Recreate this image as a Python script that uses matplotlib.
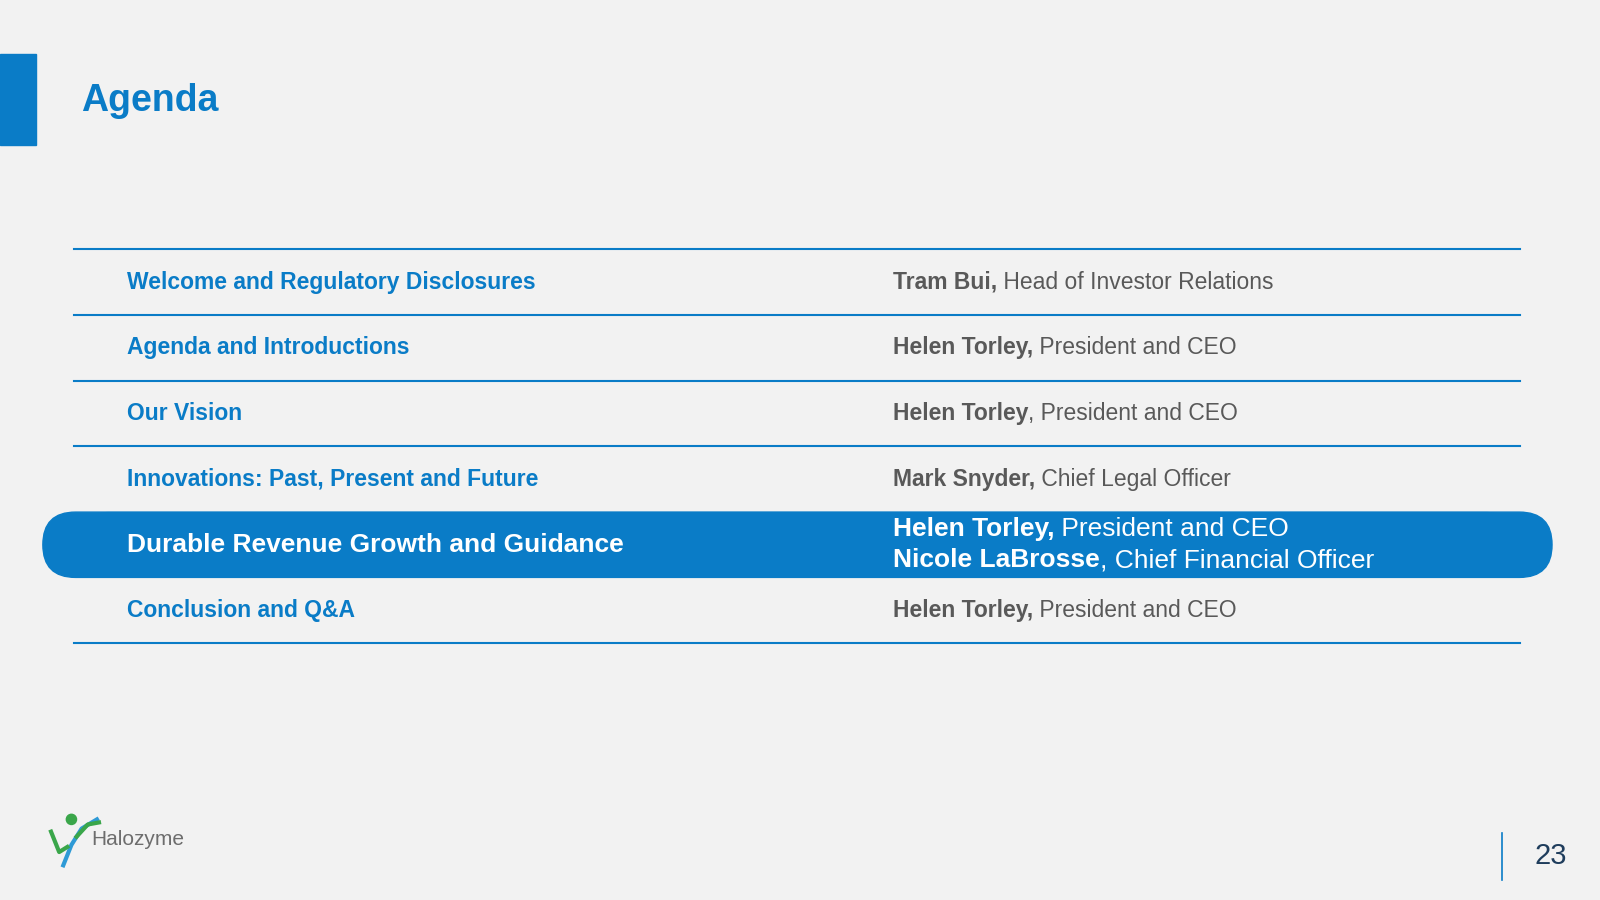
import matplotlib
matplotlib.use("Agg")
import matplotlib.pyplot as plt
from matplotlib.patches import FancyBboxPatch, Rectangle

topics = ["Welcome and Regulatory Disclosures", "Agenda and Introductions", "Our Vision",
          "Innovations: Past, Present and Future", "Durable Revenue Growth and Guidance",
          "Conclusion and Q&A"]
names = [["Tram Bui,"], ["Helen Torley,"], ["Helen Torley"], ["Mark Snyder,"],
         ["Helen Torley,", "Nicole LaBrosse"], ["Helen Torley,"]]
roles = [[" Head of Investor Relations"], [" President and CEO"], [", President and CEO"],
         [" Chief Legal Officer"], [" President and CEO", ", Chief Financial Officer"],
         [" President and CEO"]]
highlight = 4

BLUE = "#0a7cc7"
GREY = "#595959"
plt.rcParams['font.family'] = ['Liberation Sans', 'DejaVu Sans']
fig = plt.figure(figsize=(16, 9), dpi=100, facecolor="#f2f2f2")
ax = fig.add_axes([0, 0, 1, 1])
ax.set_xlim(0, 1568); ax.set_ylim(882, 0); ax.axis("off")
ax.set_facecolor("#f2f2f2")

ax.add_patch(Rectangle((0, 53), 35, 89, color=BLUE))
ax.text(79, 99, "Agenda", color=BLUE, fontsize=27, fontweight="bold", va="center")

row_h = 64.3
top = 244.5
for i, t in enumerate(topics):
    yc = top + row_h * (i + 0.5)
    if i == highlight:
        ax.add_patch(FancyBboxPatch((42 + 32, yc - 32 + 0.5), 1479 - 64, 64 - 1,
                                    boxstyle="round,pad=0,rounding_size=32", color=BLUE,
                                    mutation_aspect=1))
        ax.add_patch(FancyBboxPatch((42, yc - 32), 1479, 64,
                                    boxstyle="round,pad=0,rounding_size=32", color=BLUE))
        ax.text(124, yc, t, color="white", fontsize=19, fontweight="bold", va="center")
        for j, (n, r) in enumerate(zip(names[i], roles[i])):
            yy = yc - 15 + 30 * j
            tx = ax.text(875, yy, n, color="white", fontsize=19, fontweight="bold", va="center")
            ax.annotate(r, xycoords=tx, xy=(1, 0.5), va="center", color="white", fontsize=19)
    else:
        ax.text(124, yc, t, color=BLUE, fontsize=16.5, fontweight="bold", va="center")
        tx = ax.text(875, yc, names[i][0], color=GREY, fontsize=16.5, fontweight="bold", va="center")
        ax.annotate(roles[i][0], xycoords=tx, xy=(1, 0.5), va="center", color=GREY, fontsize=16.5)
    if i != highlight and i != highlight - 1:
        ax.plot([73, 1490], [top + row_h * (i + 1)] * 2, color=BLUE, lw=1.5)
ax.plot([73, 1490], [top, top], color=BLUE, lw=1.5)

# logo
ax.plot([62, 70, 80, 95], [848, 828, 812, 803], color="#2e9ad6", lw=3)
ax.plot([50, 58, 66], [815, 835, 830], color="#3aa64a", lw=3)
ax.plot([75, 86, 97], [820, 808, 806], color="#3aa64a", lw=3)
ax.add_patch(plt.Circle((70, 803), 5, color="#3aa64a"))
ax.text(89, 823, "Halozyme", color="#6d6d6d", fontsize=15, va="center")

ax.plot([1472, 1472], [816, 862], color=BLUE, lw=1.2)
ax.text(1520, 839, "23", color="#1f3d5c", fontsize=21, va="center", ha="center")

fig.savefig("out.png", dpi=100, facecolor=fig.get_facecolor())
